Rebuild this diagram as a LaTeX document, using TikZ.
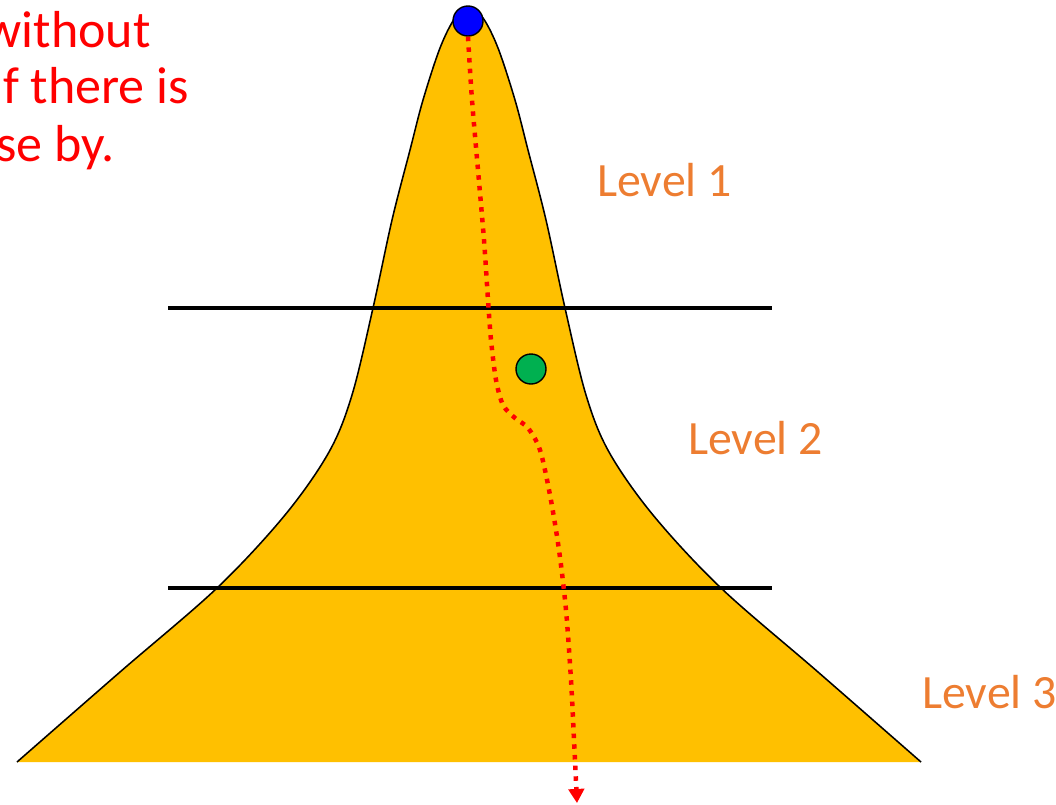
\documentclass[tikz,border=0pt]{standalone}
\usepackage{fontspec}
\setmainfont{Carlito}
\usetikzlibrary{arrows.meta}

\definecolor{peakfill}{HTML}{FFC000}
\definecolor{levelorange}{HTML}{ED7D31}
\definecolor{ballgreen}{HTML}{00B050}

\begin{document}
\begin{tikzpicture}[x=0.025cm,y=-0.025cm,
  levellabel/.style={anchor=base west,inner sep=0pt,text=levelorange,font=\fontsize{34}{41}\selectfont},
  notetext/.style={anchor=base east,inner sep=0pt,text=red,font=\fontsize{37}{44}\selectfont},
  cutline/.style={line width=3.5pt},
  ball/.style={circle,draw=black,line width=1pt,minimum size=0.75cm,inner sep=0pt}]
  \useasboundingbox (0,0) rectangle (1056,804);
  % the peak, no stroke along the base
  \draw[fill=peakfill,line width=1.1pt] plot[smooth,tension=0.55] coordinates {
    (17,762) (120,672) (217,588) (285,515) (329,452) (352,395) (373,308)
    (392,220) (410,150) (423,100) (440,48) (455,18) (469,8) (483,18)
    (498,48) (515,100) (528,150) (546,220) (565,308) (586,395) (609,452)
    (653,515) (721,588) (818,672) (921,762)};
  \draw[cutline] (168,308)--(772,308);
  \draw[cutline] (168,588)--(772,588);
  \node[ball,fill=blue] (top) at (468,21) {};
  \node[ball,fill=ballgreen] (side) at (531,369) {};
  \coordinate (bottom) at (577,803);
  \draw[red,line width=3.2pt,dash pattern=on 3.2pt off 4.4pt,
        -{Triangle[width=11pt,length=10pt]}]
    plot[smooth] coordinates {(top.south) (472,100) (478,170) (484,240)
      (488,300) (491,340) (496,380) (503,405) (515,418) (528,428)
      (540,450) (550,495) (559,550) (566,610) (571,680) (574,740) (bottom)};
  \node[levellabel] (lev1) at (597,196) {Level 1};
  \node[levellabel] (lev2) at (688,454) {Level 2};
  \node[levellabel] (lev3) at (922,708) {Level 3};
  \node[notetext] (note1) at (151,47) {without};
  \node[notetext] (note2) at (189,103) {f there is};
  \node[notetext] (note3) at (115,161) {se by.};
\end{tikzpicture}
\end{document}
